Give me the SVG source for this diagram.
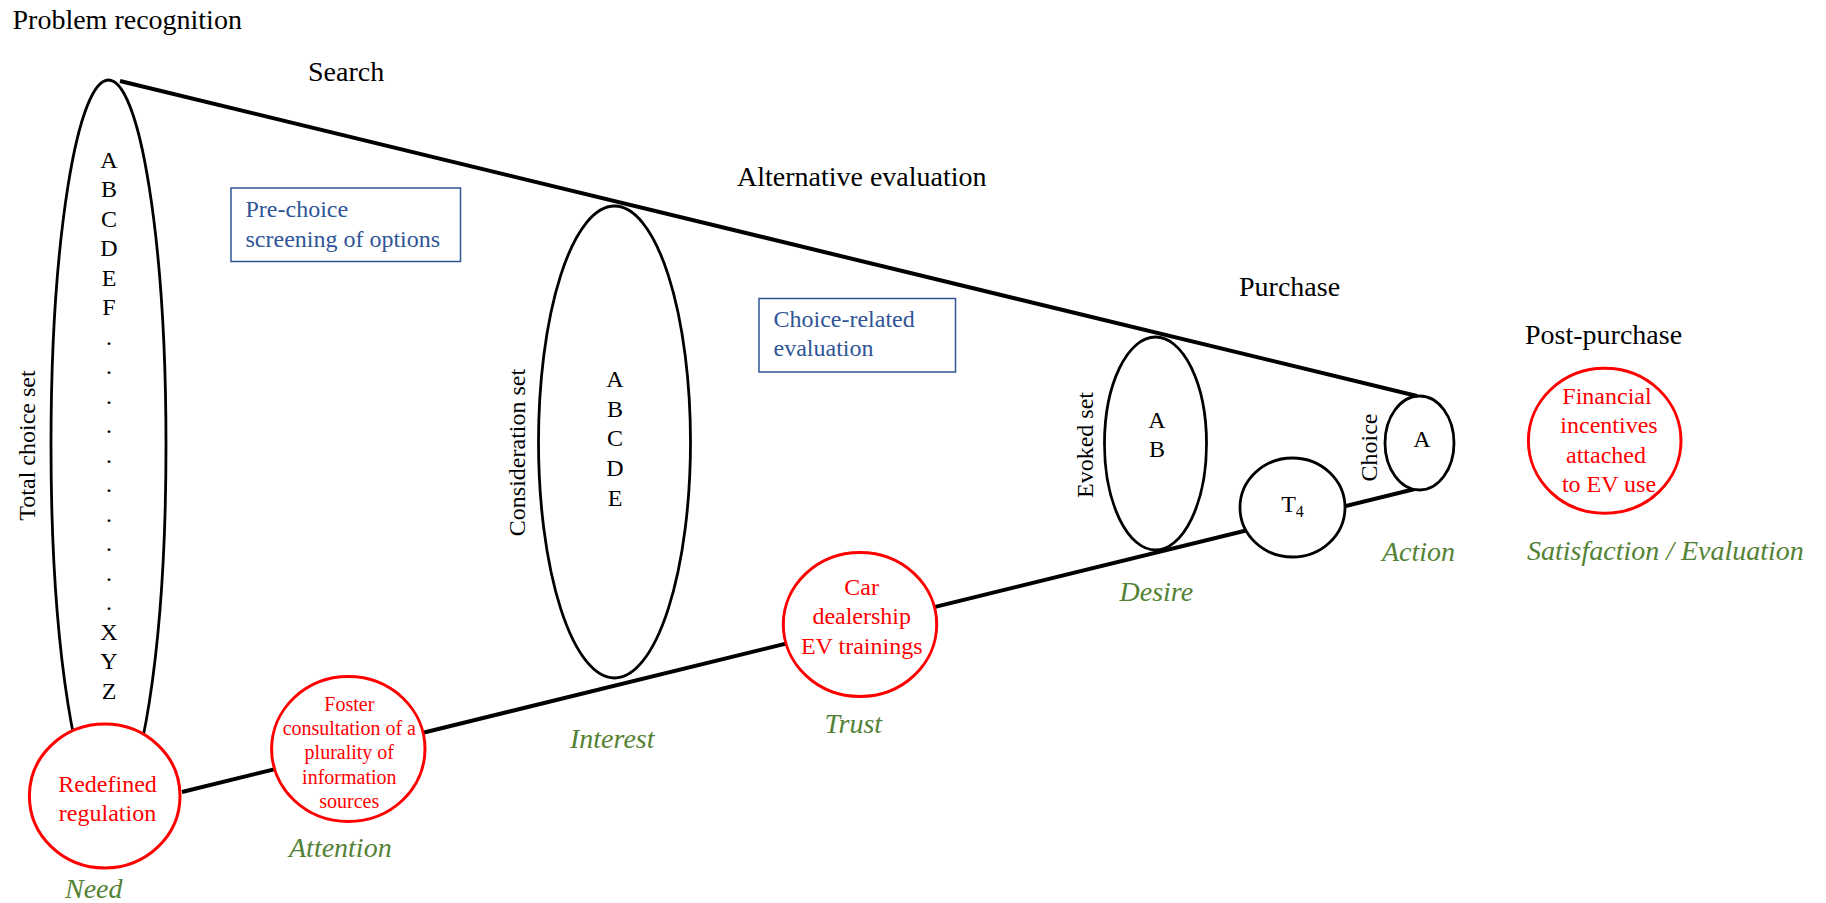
<svg xmlns="http://www.w3.org/2000/svg" width="1826" height="903" viewBox="0 0 1826 903" font-family="'Liberation Serif','Times New Roman',serif">
<style>
text{font-family:"Liberation Serif","Times New Roman",serif;}
.h{font-size:28px;fill:#000;}
.l{font-size:24px;fill:#000;text-anchor:middle;}
.r{font-size:24px;fill:#FF0000;text-anchor:middle;}
.rs{font-size:20px;fill:#FF0000;text-anchor:middle;}
.g{font-size:28px;fill:#548235;font-style:italic;}
.b{font-size:24px;fill:#2F5597;}
.box{fill:#fff;stroke:#2F5597;stroke-width:1.5;}
.blk{fill:#fff;stroke:#000;stroke-width:2.8;}
.red{fill:#fff;stroke:#FF0000;stroke-width:3;}
.con{stroke:#000;stroke-width:4;fill:none;stroke-linecap:butt;}
</style>
<rect width="1826" height="903" fill="#fff"/>

<g id="stages">
<text class="h" x="12.5" y="28.5">Problem recognition</text>
<text class="h" x="308" y="81">Search</text>
<text class="h" x="737" y="185.5">Alternative evaluation</text>
<text class="h" x="1239" y="296">Purchase</text>
<text class="h" x="1525" y="343.5">Post-purchase</text>
</g>

<g id="connectors">
<line class="con" x1="120" y1="81" x2="1417" y2="396"/>
<line class="con" x1="182" y1="792" x2="1417" y2="488.5"/>
</g>

<g id="total-choice-set">
<ellipse class="blk" cx="108.5" cy="445" rx="57.5" ry="365"/>
<text class="l" x="109" y="167.7">A<tspan x="109" dy="29.5">B</tspan><tspan x="109" dy="29.5">C</tspan><tspan x="109" dy="29.5">D</tspan><tspan x="109" dy="29.5">E</tspan><tspan x="109" dy="29.5">F</tspan><tspan x="109" dy="29.5">.</tspan><tspan x="109" dy="29.5">.</tspan><tspan x="109" dy="29.5">.</tspan><tspan x="109" dy="29.5">.</tspan><tspan x="109" dy="29.5">.</tspan><tspan x="109" dy="29.5">.</tspan><tspan x="109" dy="29.5">.</tspan><tspan x="109" dy="29.5">.</tspan><tspan x="109" dy="29.5">.</tspan><tspan x="109" dy="29.5">.</tspan><tspan x="109" dy="29.5">X</tspan><tspan x="109" dy="29.5">Y</tspan><tspan x="109" dy="29.5">Z</tspan></text>
<text class="l" transform="translate(34.5,445.5) rotate(-90)">Total choice set</text>
</g>

<g id="pre-choice">
<rect class="box" x="231" y="188" width="229.5" height="73.5"/>
<text class="b" x="245.5" y="217.3">Pre-choice</text>
<text class="b" x="245.5" y="246.7">screening of options</text>
</g>

<g id="consideration-set">
<ellipse class="blk" cx="614.5" cy="442" rx="76" ry="236"/>
<text class="l" x="615" y="386.8">A<tspan x="615" dy="29.7">B</tspan><tspan x="615" dy="29.7">C</tspan><tspan x="615" dy="29.7">D</tspan><tspan x="615" dy="29.7">E</tspan></text>
<text class="l" transform="translate(524.5,452.5) rotate(-90)">Consideration set</text>
</g>

<g id="choice-related">
<rect class="box" x="759" y="298.5" width="196.5" height="73.5"/>
<text class="b" x="773.5" y="326.5">Choice-related</text>
<text class="b" x="773.5" y="356">evaluation</text>
</g>

<g id="evoked-set">
<ellipse class="blk" cx="1155.5" cy="443.5" rx="51" ry="106.5"/>
<text class="l" x="1157" y="427.7">A<tspan x="1157" dy="29">B</tspan></text>
<text class="l" transform="translate(1093,445) rotate(-90)">Evoked set</text>
</g>

<g id="t4">
<ellipse class="blk" cx="1292.5" cy="507.5" rx="52.5" ry="49.5"/>
<text class="l" x="1292.5" y="511.7">T<tspan dy="5" style="font-size:16px">4</tspan></text>
</g>

<g id="choice">
<ellipse class="blk" cx="1419.5" cy="443" rx="34.5" ry="47"/>
<text class="l" x="1422" y="446.7">A</text>
<text class="l" transform="translate(1377,447.5) rotate(-90)">Choice</text>
</g>

<g id="redefined-regulation">
<ellipse class="red" cx="104.7" cy="796" rx="75.3" ry="72"/>
<text class="r" x="107.5" y="791.5">Redefined</text>
<text class="r" x="107.5" y="820.5">regulation</text>
</g>

<g id="foster">
<ellipse class="red" cx="348.3" cy="749" rx="76.7" ry="72.5"/>
<text class="rs" x="349.3" y="710.7">Foster</text>
<text class="rs" x="349.3" y="735">consultation of a</text>
<text class="rs" x="349.3" y="759.3">plurality of</text>
<text class="rs" x="349.3" y="784">information</text>
<text class="rs" x="349.3" y="808.3">sources</text>
</g>

<g id="car-dealership">
<ellipse class="red" cx="860" cy="624.5" rx="76.7" ry="72"/>
<text class="r" x="861.7" y="595">Car</text>
<text class="r" x="861.7" y="624.3">dealership</text>
<text class="r" x="861.7" y="654.3">EV trainings</text>
</g>

<g id="financial-incentives">
<ellipse class="red" cx="1604.7" cy="440.8" rx="76.3" ry="72.5"/>
<text class="r" x="1607" y="404">Financial</text>
<text class="r" x="1609" y="433.3">incentives</text>
<text class="r" x="1606" y="463.3">attached</text>
<text class="r" x="1609" y="492.3">to EV use</text>
</g>

<g id="aida-labels">
<text class="g" x="65" y="898">Need</text>
<text class="g" x="289" y="857.3">Attention</text>
<text class="g" x="570" y="747.7">Interest</text>
<text class="g" x="824.5" y="733">Trust</text>
<text class="g" x="1119.5" y="601">Desire</text>
<text class="g" x="1382" y="561">Action</text>
<text class="g" x="1527" y="560">Satisfaction / Evaluation</text>
</g>
</svg>
